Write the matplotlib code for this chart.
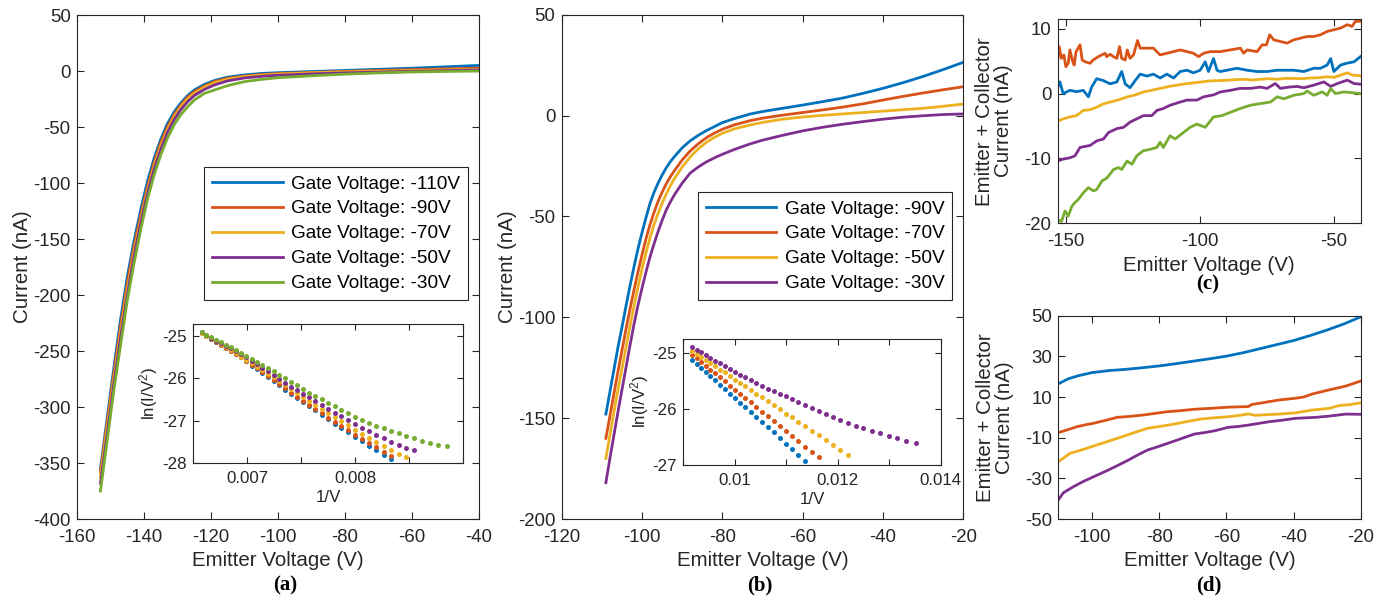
import numpy as np
import matplotlib
matplotlib.use("Agg")
import matplotlib.pyplot as plt

plt.rcParams["font.family"] = ["Liberation Sans", "DejaVu Sans"]
plt.rcParams["axes.unicode_minus"] = False
plt.rcParams["mathtext.fontset"] = "custom"
plt.rcParams["mathtext.rm"] = "Liberation Sans"
plt.rcParams["mathtext.it"] = "Liberation Sans:italic"
plt.rcParams["mathtext.default"] = "regular"

# ---------------- data ----------------
COLORS = ["#0072BD", "#D95319", "#EDB120", "#7E2F8E", "#77AC30"]

# (a) emitter current for five gate voltages
GATE_A = ["-110V", "-90V", "-70V", "-50V", "-30V"]
V_A = [-153, -151, -149, -147, -145, -143, -141, -139, -137, -135, -133, -131, -129,
       -127, -125, -122, -119, -115, -110, -105, -100, -90, -80, -70, -60, -50, -40]
I_A_110 = [-355, -310, -265, -222, -184, -152, -124, -99, -78, -61, -47, -36.5, -28.5,
           -22, -17, -12, -8.5, -5.5, -3.5, -2.2, -1.5, -0.5, 0.5, 1.5, 2.5, 3.7, 5]
I_A_90 = [-358, -314, -270, -228, -190, -157, -129, -104, -82, -64, -50, -39, -30.5,
          -23.5, -18.5, -13.5, -9.5, -6.5, -4.5, -3.2, -2.3, -1.3, -0.3, 0.5, 1.2, 1.9, 2.5]
I_A_70 = [-362, -318, -274, -233, -195, -162, -133, -107, -85, -67, -52.5, -41, -32,
          -25, -20, -14.5, -10.5, -7.3, -5, -3.7, -2.8, -1.6, -0.8, -0.2, 0.4, 1, 1.5]
I_A_50 = [-368, -324, -279, -238, -200, -166, -136, -110, -88, -70, -55, -43.5, -34.5,
          -27.5, -22, -16.5, -12.5, -8.8, -6.2, -4.8, -3.8, -2.6, -1.7, -1, -0.3, 0.3, 1]
I_A_30 = [-375, -330, -285, -245, -205, -172, -142, -115, -93, -75, -60, -48, -39,
          -32, -26, -20, -17, -13, -9.5, -7.5, -6, -4.3, -2.8, -1.7, -0.9, -0.4, 0]

# (a) inset: ln(I/V^2) against 1/V, one point per volt
VOLTS_INSET_A = list(range(152, 112, -1))
LN_A_110 = [-24.93, -25.00, -25.07, -25.14, -25.21, -25.28, -25.35, -25.42, -25.51, -25.60,
            -25.70, -25.79, -25.88, -25.97, -26.07, -26.17, -26.27, -26.37, -26.47, -26.57,
            -26.66, -26.76, -26.86, -26.96, -27.07, -27.17, -27.28, -27.38, -27.48, -27.59,
            -27.69, -27.80, -27.90]
LN_A_90 = [-24.93, -25.00, -25.07, -25.14, -25.21, -25.28, -25.35, -25.42, -25.50, -25.59,
           -25.68, -25.77, -25.86, -25.95, -26.04, -26.14, -26.24, -26.34, -26.44, -26.54,
           -26.63, -26.73, -26.83, -26.93, -27.03, -27.13, -27.23, -27.33, -27.43, -27.53,
           -27.63, -27.73, -27.83]
LN_A_70 = [-24.93, -25.00, -25.06, -25.13, -25.20, -25.27, -25.34, -25.41, -25.49, -25.57,
           -25.65, -25.73, -25.81, -25.89, -25.98, -26.07, -26.16, -26.26, -26.35, -26.44,
           -26.54, -26.63, -26.73, -26.83, -26.92, -27.02, -27.11, -27.21, -27.31, -27.40,
           -27.50, -27.59, -27.69, -27.78, -27.87]
LN_A_50 = [-24.91, -24.97, -25.04, -25.11, -25.17, -25.23, -25.29, -25.35, -25.43, -25.51,
           -25.59, -25.67, -25.75, -25.84, -25.93, -26.02, -26.11, -26.20, -26.28, -26.37,
           -26.45, -26.54, -26.63, -26.72, -26.81, -26.90, -26.99, -27.08, -27.17, -27.25,
           -27.34, -27.42, -27.50, -27.57, -27.64, -27.70]
LN_A_30 = [-24.92, -24.97, -25.03, -25.09, -25.15, -25.21, -25.27, -25.33, -25.40, -25.47,
           -25.54, -25.61, -25.68, -25.76, -25.84, -25.92, -26.00, -26.08, -26.17, -26.25,
           -26.34, -26.42, -26.50, -26.58, -26.66, -26.75, -26.83, -26.91, -26.98, -27.05,
           -27.12, -27.18, -27.24, -27.30, -27.36, -27.42, -27.47, -27.52, -27.57, -27.61]

# (b) emitter current for four gate voltages
GATE_B = ["-90V", "-70V", "-50V", "-30V"]
V_B = [-109, -108, -107, -106, -105, -104, -103, -102, -101, -100, -99, -98, -97, -96,
       -95, -94, -93, -92, -90, -88, -86, -84, -82, -80, -77, -73, -70, -65, -60, -55,
       -50, -45, -40, -35, -30, -25, -20]
I_B_90 = [-148, -137, -126, -115, -105, -94.5, -84.5, -75, -66, -58, -50.5, -43.5, -38,
          -33.5, -29.5, -26, -23, -20.5, -16, -12.5, -9.8, -7.5, -5.5, -3.5, -1.5, 0.8,
          2.0, 3.6, 5.2, 6.9, 8.7, 11, 13.5, 16.3, 19.4, 22.8, 26.4]
I_B_70 = [-160, -149, -138, -127, -116.5, -106, -96, -86.5, -77.5, -69, -61, -54, -48,
          -42.5, -38, -34, -30.5, -27.5, -22, -17.5, -14, -11, -8.7, -6.8, -4.6, -2.5,
          -1.3, 0.2, 1.5, 2.8, 4.2, 5.8, 7.7, 9.5, 11.2, 12.8, 14.3]
I_B_50 = [-170, -158.5, -147, -136, -125.5, -115, -104.5, -94.5, -85, -76, -68, -60.5,
          -54, -48.5, -43.5, -39, -35, -31.5, -25.5, -20.5, -16.5, -13.3, -10.8, -8.8,
          -6.6, -4.6, -3.4, -1.8, -0.7, 0.1, 0.8, 1.5, 2.2, 2.9, 3.6, 4.6, 5.7]
I_B_30 = [-182, -170, -158.5, -147, -136, -125, -114, -103.5, -94, -85.5, -77.5, -70,
          -63.5, -57.5, -52, -47, -43, -39.5, -33.5, -28.5, -25.5, -23, -21, -19.2, -16.8,
          -14, -12.2, -9.8, -7.6, -5.8, -4.3, -3, -1.8, -0.8, -0.1, 0.5, 0.8]

# (b) inset: ln(I/V^2) against 1/V, one point per volt
VOLTS_INSET_B = list(range(109, 73, -1))
LN_B_90 = [-25.12, -25.19, -25.26, -25.34, -25.41, -25.48, -25.56, -25.64, -25.72, -25.80,
           -25.89, -25.97, -26.06, -26.15, -26.24, -26.33, -26.42, -26.52, -26.62, -26.72,
           -26.82, -26.93]
LN_B_70 = [-25.03, -25.09, -25.16, -25.22, -25.29, -25.36, -25.43, -25.50, -25.58, -25.65,
           -25.73, -25.80, -25.88, -25.96, -26.05, -26.13, -26.22, -26.30, -26.39, -26.49,
           -26.58, -26.68, -26.77, -26.87]
LN_B_50 = [-24.96, -25.01, -25.06, -25.12, -25.17, -25.23, -25.29, -25.34, -25.40, -25.47,
           -25.53, -25.59, -25.66, -25.72, -25.79, -25.86, -25.93, -26.00, -26.08, -26.15,
           -26.23, -26.31, -26.39, -26.47, -26.56, -26.64, -26.73, -26.82]
LN_B_30 = [-24.88, -24.93, -24.98, -25.03, -25.08, -25.13, -25.18, -25.23, -25.28, -25.33,
           -25.38, -25.43, -25.48, -25.53, -25.58, -25.63, -25.68, -25.72, -25.77, -25.82,
           -25.87, -25.93, -25.98, -26.04, -26.09, -26.15, -26.20, -26.25, -26.30, -26.34,
           -26.39, -26.43, -26.48, -26.52, -26.57, -26.61]

# (c) emitter + collector current, gate sweep of (a)
V_C_110 = [-153, -152.1, -150.9, -148.4, -145.9, -143.4, -141.5, -140.3, -138.4, -135.9,
           -133.4, -130.9, -129.1, -127.8, -126.0, -124.1, -122.2, -119.7, -117.3, -114.8,
           -112.3, -109.8, -107.3, -104.8, -102.4, -99.9, -98.0, -96.8, -94.9, -93.6,
           -92.4, -89.9, -86.2, -82.4, -78.7, -75.0, -71.2, -65.0, -61.3, -57.6,
           -55.1, -52.6, -51.3, -50.1, -47.6, -45.1, -42.6, -40.2]
I_C_110 = [0.9, 1.8, 0, 0.5, 0.3, 0.5, -0.5, 1.0, 2.3, 2.0,
           1.5, 1.8, 3.4, 1.5, 0.9, 2.0, 3.0, 2.7, 3.0, 2.4,
           3.0, 2.4, 3.4, 3.6, 3.2, 3.6, 4.9, 3.4, 5.4, 3.6,
           3.4, 3.6, 3.9, 3.6, 3.4, 3.4, 3.6, 3.6, 3.4, 3.9,
           3.9, 4.4, 5.4, 3.4, 4.4, 4.7, 4.9, 5.7]
V_C_90 = [-153.1, -152.4, -151.5, -150.6, -149.9, -149.0, -148.4, -147.5, -146.8, -146.1,
          -145.3, -144.6, -143.8, -142.8, -140.9, -139.7, -137.8, -136.5, -135.3, -134.7,
          -133.4, -132.2, -130.9, -129.9, -129.1, -127.8, -127.0, -126.0, -124.7, -123.2,
          -122.2, -119.7, -117.3, -114.8, -112.3, -109.8, -107.3, -104.8, -102.4, -100.5,
          -98.6, -96.1, -92.4, -88.7, -84.9, -83.7, -82.4, -78.7, -76.8, -75.2,
          -74.0, -72.5, -70.0, -67.5, -65.0, -62.5, -60.0, -57.6, -55.1, -52.6,
          -50.1, -47.6, -45.1, -43.3, -42.1, -40.2]
I_C_90 = [4.4, 7.25, 5.44, 5.96, 4.14, 4.67, 6.73, 5.18, 4.40, 6.47,
          7.0, 7.51, 5.18, 4.92, 4.67, 5.18, 5.70, 5.96, 6.22, 5.70,
          6.06, 5.70, 5.44, 7.25, 5.44, 5.18, 6.73, 5.44, 5.96, 8.18,
          7.0, 7.0, 7.0, 5.96, 6.22, 6.47, 6.73, 6.47, 6.22, 5.70,
          6.22, 6.47, 6.47, 6.73, 7.0, 6.22, 6.73, 6.47, 7.51, 7.51,
          9.07, 8.29, 8.03, 7.78, 8.29, 8.55, 8.80, 8.80, 9.07, 9.58,
          9.84, 10.1, 10.62, 10.36, 11.14, 11.14]
V_C_70 = [-153, -150.9, -148.4, -146, -143.4, -141, -138.4, -136, -133.4, -130.5,
          -127, -124, -121, -118, -114.8, -111.5, -108.6, -105.5, -102.4, -99.3,
          -96.2, -93, -89.9, -86.8, -83.7, -80.5, -77.5, -74.3, -71.2, -68,
          -65, -61.9, -58.8, -55.7, -52.6, -50, -47.6, -45.1, -43.2, -40.2]
I_C_70 = [-4.26, -3.9, -3.6, -3.4, -2.6, -2.5, -2.1, -1.6, -1.3, -1.0,
          -0.5, -0.2, 0.25, 0.5, 0.8, 1.1, 1.3, 1.5, 1.65, 1.8,
          1.96, 2.0, 2.05, 2.15, 2.2, 2.1, 2.2, 2.3, 2.2, 2.35,
          2.33, 2.3, 2.4, 2.45, 2.6, 2.5, 2.85, 3.2, 2.85, 2.75]
V_C_50 = [-153, -150.9, -148.4, -146.5, -144.6, -140.9, -138.4, -135.9, -134.0, -130.9,
          -128.4, -126.0, -123.5, -121.0, -117.9, -116.0, -113.6, -111.1, -107.3, -104.8,
          -101.1, -98.6, -94.9, -92.4, -88.7, -85.0, -81.2, -77.5, -75.0, -71.9,
          -70.0, -66.9, -63.8, -61.3, -57.6, -53.8, -51.3, -48.8, -45.1, -42.6, -40.2]
I_C_50 = [-10.4, -10.1, -9.9, -9.6, -8.3, -8.0, -7.3, -7.0, -6.0, -5.4,
          -5.2, -4.4, -3.9, -3.4, -3.4, -2.6, -2.3, -1.8, -1.3, -1.0,
          -1.0, -0.5, -0.2, 0.25, 0.5, 0.8, 0.8, 1.0, 0.8, 1.55,
          0.8, 1.0, 1.1, 0.9, 1.3, 1.8, 1.1, 1.55, 2.07, 1.55, 1.45]
V_C_30 = [-153, -151.5, -150.2, -149, -147.7, -146.5, -145.2, -143.4, -141.5, -139.6,
          -138.4, -136.5, -134.6, -132.1, -130.3, -129.1, -127.1, -125.3, -123.5, -121.0,
          -118.5, -116.0, -114.8, -113.6, -111.1, -109.2, -106.1, -103.6, -101.1, -98.0,
          -94.9, -91.8, -88.7, -85.0, -81.2, -77.5, -73.7, -71.2, -68.7, -65.0,
          -61.3, -60.1, -57.6, -54.5, -52.6, -51.3, -49.5, -46.4, -43.9, -40.2]
I_C_30 = [-19.45, -19.7, -18.1, -18.9, -17.4, -16.8, -16.3, -15.3, -14.5, -15.0,
          -14.8, -13.5, -13.0, -11.7, -11.4, -11.7, -10.4, -10.9, -9.6, -8.8,
          -8.6, -8.3, -7.5, -8.3, -6.5, -7.0, -6.0, -5.2, -4.7, -5.2,
          -3.6, -3.4, -2.9, -2.3, -1.8, -1.55, -1.3, -0.5, -0.8, -0.26,
          0, 0.4, -0.26, 0.26, -0.26, 0.78, 0, 0.26, 0.16, 0]

# (d) emitter + collector current, gate sweep of (b)
V_D_90 = [-110, -107, -104, -100, -95, -90, -85, -80, -75, -70, -65, -60, -55, -50,
          -45, -40, -35, -30, -25, -20]
I_D_90 = [16.5, 19, 20.5, 22, 23, 23.6, 24.4, 25.3, 26.4, 27.6, 28.8, 30.1, 31.8, 33.8,
          35.8, 37.8, 40.3, 43, 46, 49.5]
V_D_70 = [-110, -107, -104.5, -102, -99.5, -96, -92.5, -88.5, -84.5, -81, -77.5, -73.5,
          -69.5, -65, -59.5, -55.5, -53.5, -52.5, -48.5, -44.5, -39.5, -37, -34.5, -32,
          -29.5, -24.5, -20]
I_D_70 = [-7.5, -6.0, -4.6, -3.7, -2.9, -1.5, 0, 0.5, 1.2, 2.0, 2.8, 3.3, 4.0, 4.4,
          5.0, 5.2, 5.3, 6.3, 7.4, 8.5, 9.4, 10.0, 11.5, 12.5, 13.5, 15.4, 17.9]
V_D_50 = [-110, -106.5, -104, -101.5, -99, -96.5, -93, -89.5, -86.5, -83.5, -79.5, -75.5,
          -71.5, -67.5, -63.5, -59.5, -56, -53.5, -51.5, -48, -44.5, -39.5, -34.5, -29.5,
          -26.5, -23, -20]
I_D_50 = [-21.8, -17.7, -16.5, -15.2, -13.8, -12.5, -10.6, -8.7, -7.0, -5.4, -4.4, -3.3,
          -2.0, -0.8, -0.2, 0.3, 1.0, 1.7, 1.0, 1.3, 1.6, 2.2, 3.6, 4.4, 5.8, 6.3, 7.2]
V_D_30 = [-110, -108.5, -105.5, -102.5, -99.5, -95.5, -92.5, -89.5, -86.5, -83.5, -80.5,
          -77.5, -73.5, -69.5, -66.5, -63.5, -59.5, -56.5, -53.5, -50.5, -47.5, -43.5,
          -39.5, -33.5, -29.5, -24.5, -20]
I_D_30 = [-40.6, -37.1, -34.1, -31.5, -29.2, -26.2, -23.8, -21.3, -18.6, -16.1, -14.5,
          -12.8, -10.5, -8.2, -7.5, -6.6, -4.9, -4.5, -3.8, -3.0, -2.2, -1.4, -0.5, 0,
          0.6, 1.6, 1.5]

# ---------------- layout helpers ----------------
W, H = 1386, 599
INK = "#262626"
TICK_FS = 13.4
LABEL_FS = 14.8
INSET_FS = 12.2

fig = plt.figure(figsize=(W / 100, H / 100), dpi=100)


def px_box(left, top, right, bottom):
    return [left / W, 1 - bottom / H, (right - left) / W, (bottom - top) / H]


def style(ax, fs, ticklen=5):
    ax.tick_params(direction="in", top=True, right=True, length=ticklen, width=0.8,
                   colors=INK, labelsize=fs, labelcolor=INK)
    ax.tick_params(axis="x", pad=7)
    ax.tick_params(axis="y", pad=4.5)
    for s in ax.spines.values():
        s.set_color(INK)
        s.set_linewidth(0.8)


def legend(ax, labels, anchor):
    leg = ax.legend(labels, loc="upper right", bbox_to_anchor=anchor, fontsize=13.7,
                    frameon=True, fancybox=False, framealpha=1, edgecolor=INK,
                    handlelength=3.7, handletextpad=0.45, labelspacing=0.4,
                    borderpad=0.42, borderaxespad=0)
    leg.get_frame().set_linewidth(0.8)
    for t in leg.get_texts():
        t.set_color("black")
    return leg


def panel_tag(x, y, s):
    fig.text(x / W, 1 - y / H, s, ha="center", va="center", fontsize=15,
             fontweight="bold", family="Liberation Serif", color="black")


LW = 2.0

# ---------------- (a) ----------------
ax_a = fig.add_axes(px_box(77, 15, 479, 519))
for ys, c in zip([I_A_110, I_A_90, I_A_70, I_A_50, I_A_30], COLORS):
    ax_a.plot(V_A, ys, color=c, lw=LW)
ax_a.set_xlim(-160, -40)
ax_a.set_ylim(-400, 50)
ax_a.set_xticks(np.arange(-160, -39, 20))
ax_a.set_yticks(np.arange(-400, 51, 50))
style(ax_a, TICK_FS)
ax_a.set_xlabel("Emitter Voltage (V)", fontsize=LABEL_FS, color=INK, labelpad=4)
ax_a.set_ylabel("Current (nA)", fontsize=LABEL_FS, color=INK)
ax_a.yaxis.set_label_coords(-0.112, 0.5)
legend(ax_a, ["Gate Voltage: " + g for g in GATE_A], (0.973, 0.698))

ins_a = fig.add_axes(px_box(193, 324, 463, 463))
for ys, c in zip([LN_A_110, LN_A_90, LN_A_70, LN_A_50, LN_A_30], COLORS):
    v = np.array(VOLTS_INSET_A[:len(ys)], dtype=float)
    ins_a.plot(1.0 / v, ys, ls="none", marker="o", ms=3.6, mec="none", mfc=c)
ins_a.set_xlim(0.0065, 0.009)
ins_a.set_ylim(-28, -24.72)
xt = np.arange(0.0065, 0.00901, 0.0005)
ins_a.set_xticks(xt)
ins_a.set_xticklabels(["0.007" if abs(t - 0.007) < 1e-9 else "0.008" if abs(t - 0.008) < 1e-9 else ""
                       for t in xt])
ins_a.set_yticks([-28, -27, -26, -25])
style(ins_a, INSET_FS, ticklen=4)
ins_a.tick_params(axis="x", pad=6)
ins_a.set_xlabel("1/V", fontsize=INSET_FS, color=INK, labelpad=3)
ins_a.set_ylabel("ln(I/V$^2$)", fontsize=INSET_FS, color=INK)
ins_a.yaxis.set_label_coords(-0.122, 0.5)

# ---------------- (b) ----------------
ax_b = fig.add_axes(px_box(561.7, 14.7, 963.3, 519))
for ys, c in zip([I_B_90, I_B_70, I_B_50, I_B_30], COLORS):
    ax_b.plot(V_B, ys, color=c, lw=LW)
ax_b.set_xlim(-120, -20)
ax_b.set_ylim(-200, 50)
ax_b.set_xticks(np.arange(-120, -19, 20))
ax_b.set_yticks(np.arange(-200, 51, 50))
style(ax_b, TICK_FS)
ax_b.set_xlabel("Emitter Voltage (V)", fontsize=LABEL_FS, color=INK, labelpad=4)
ax_b.set_ylabel("Current (nA)", fontsize=LABEL_FS, color=INK)
ax_b.yaxis.set_label_coords(-0.111, 0.5)
legend(ax_b, ["Gate Voltage: " + g for g in GATE_B], (0.973, 0.648))

ins_b = fig.add_axes(px_box(683.3, 339, 940.7, 464.7))
for ys, c in zip([LN_B_90, LN_B_70, LN_B_50, LN_B_30], COLORS):
    v = np.array(VOLTS_INSET_B[:len(ys)], dtype=float)
    ins_b.plot(1.0 / v, ys, ls="none", marker="o", ms=3.6, mec="none", mfc=c)
ins_b.set_xlim(0.009, 0.014)
ins_b.set_ylim(-27, -24.74)
xt = [0.009, 0.010, 0.011, 0.012, 0.013, 0.014]
ins_b.set_xticks(xt)
ins_b.set_xticklabels(["", "0.01", "", "0.012", "", "0.014"])
ins_b.set_yticks([-27, -26, -25])
style(ins_b, INSET_FS, ticklen=4)
ins_b.tick_params(axis="x", pad=6)
ins_b.set_xlabel("1/V", fontsize=INSET_FS, color=INK, labelpad=3)
ins_b.set_ylabel("ln(I/V$^2$)", fontsize=INSET_FS, color=INK)
ins_b.yaxis.set_label_coords(-0.125, 0.5)

# ---------------- (c) ----------------
ax_c = fig.add_axes(px_box(1057.5, 19, 1361, 223.3))
for xs, ys, c in zip([V_C_110, V_C_90, V_C_70, V_C_50, V_C_30],
                     [I_C_110, I_C_90, I_C_70, I_C_50, I_C_30], COLORS):
    ax_c.plot(xs, ys, color=c, lw=LW)
ax_c.set_xlim(-153, -40)
ax_c.set_ylim(-20, 11.5)
ax_c.set_xticks([-150, -100, -50])
ax_c.set_yticks([-20, -10, 0, 10])
style(ax_c, TICK_FS)
ax_c.set_xlabel("Emitter Voltage (V)", fontsize=LABEL_FS, color=INK, labelpad=4)
ax_c.set_ylabel("Emitter + Collector\nCurrent (nA)", fontsize=LABEL_FS, color=INK,
                linespacing=1.0)
ax_c.yaxis.set_label_coords(-0.146, 0.5)

# ---------------- (d) ----------------
ax_d = fig.add_axes(px_box(1058.3, 315.7, 1361, 519))
for xs, ys, c in zip([V_D_90, V_D_70, V_D_50, V_D_30],
                     [I_D_90, I_D_70, I_D_50, I_D_30], COLORS):
    ax_d.plot(xs, ys, color=c, lw=LW)
ax_d.set_xlim(-110, -20)
ax_d.set_ylim(-50, 50)
ax_d.set_xticks([-100, -80, -60, -40, -20])
ax_d.set_yticks([-50, -30, -10, 10, 30, 50])
style(ax_d, TICK_FS)
ax_d.set_xlabel("Emitter Voltage (V)", fontsize=LABEL_FS, color=INK, labelpad=4)
ax_d.set_ylabel("Emitter + Collector\nCurrent (nA)", fontsize=LABEL_FS, color=INK,
                linespacing=1.0)
ax_d.yaxis.set_label_coords(-0.146, 0.5)

panel_tag(285, 585, "(a)")
panel_tag(760, 585, "(b)")
panel_tag(1208, 284, "(c)")
panel_tag(1209, 585, "(d)")

fig.savefig("out.png", dpi=100)
